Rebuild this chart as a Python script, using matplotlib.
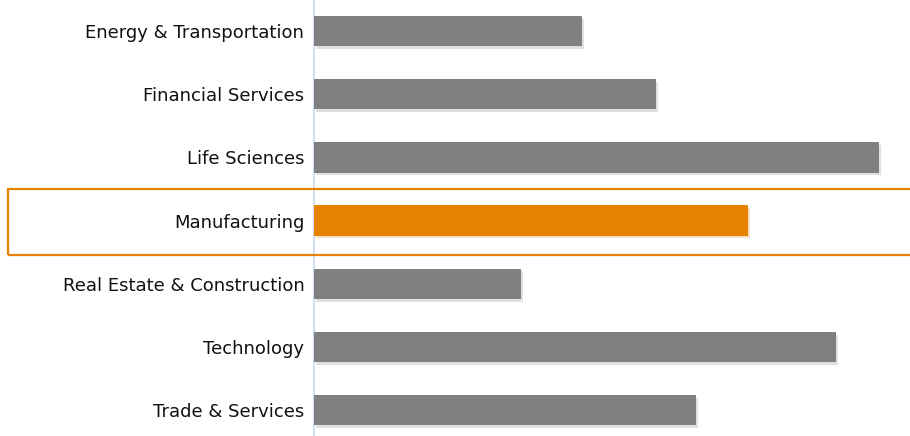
import matplotlib.pyplot as plt
import matplotlib.patheffects as pe
from matplotlib.patches import Rectangle

# Sector values (relative bar lengths)
sectors = ["Energy & Transportation", "Financial Services", "Life Sciences",
           "Manufacturing", "Real Estate & Construction", "Technology",
           "Trade & Services"]
values = [268, 342, 565, 434, 207, 522, 382]
highlight = "Manufacturing"

gray = "#808080"
orange = "#E68200"
colors = [orange if s == highlight else gray for s in sectors]

W, H = 910, 436
fig = plt.figure(figsize=(W / 100, H / 100), dpi=100)
ax = fig.add_axes([314 / W, 0, 1 - 314 / W, 1])

bars = ax.barh(range(len(sectors)), values, height=0.48, color=colors, zorder=3)
for b in bars:
    b.set_path_effects([pe.SimplePatchShadow(offset=(1.5, -2), alpha=0.22, rho=0.9),
                        pe.Normal()])

ax.set_xlim(0, W - 314)
ax.set_ylim(6.41, -0.49)
ax.set_yticks(range(len(sectors)))
ax.set_yticklabels(sectors, fontsize=13, family="DejaVu Sans", color="#111111")
ax.tick_params(axis="y", length=0, pad=7)
ax.set_xticks([])
for side in ["top", "right", "bottom"]:
    ax.spines[side].set_visible(False)
ax.spines["left"].set_color("#C9D9EE")
ax.spines["left"].set_linewidth(1.2)

# Highlight box around the Manufacturing row
fig.patches.append(Rectangle((8 / W, 1 - 255 / H), 910 / W, 66 / H,
                             transform=fig.transFigure, fill=False,
                             edgecolor=orange, linewidth=1.6, zorder=5))

fig.savefig("out.png", dpi=100)
